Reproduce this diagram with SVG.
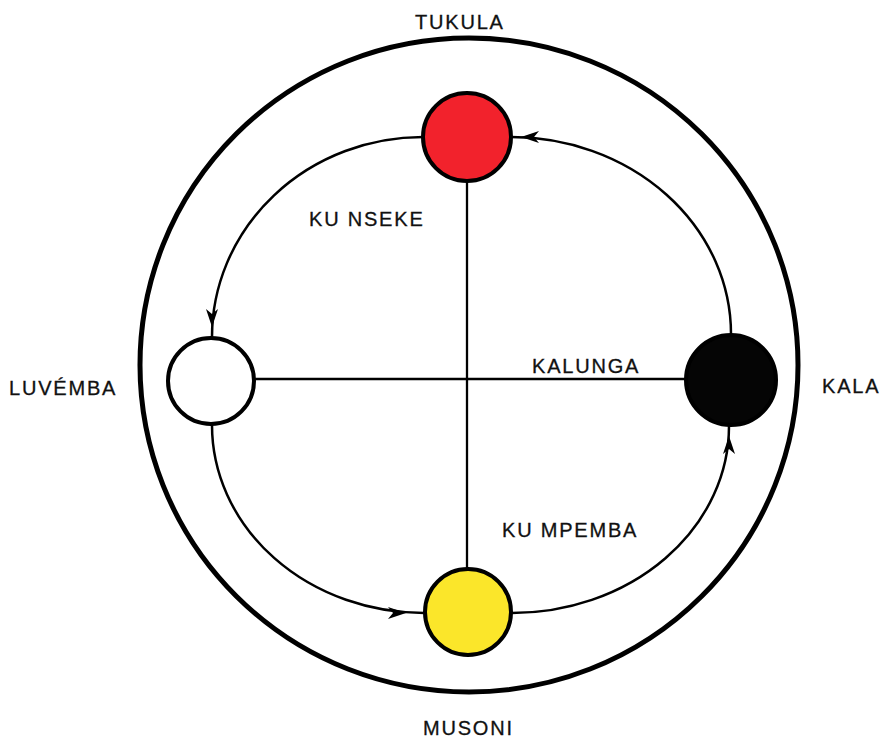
<svg xmlns="http://www.w3.org/2000/svg" width="884" height="738" viewBox="0 0 884 738">
<style>
.lbl{font-family:"Liberation Sans",Arial,sans-serif;font-size:20px;letter-spacing:1.8px;fill:#111;stroke:#111;stroke-width:0.3}
.node{stroke:#000;stroke-width:4}
.arc{fill:none;stroke:#000;stroke-width:2.5}
.line{stroke:#000;stroke-width:2.3}
</style>
<defs>
<marker id="arr" viewBox="-30 -10 30 20" refX="0" refY="0" markerWidth="30" markerHeight="20" markerUnits="userSpaceOnUse" orient="auto" overflow="visible">
<path d="M-10,0 L-28,-6 L-23,0 L-28,6 z" fill="#000"/>
</marker>
<marker id="arr2" viewBox="-30 -10 30 20" refX="0" refY="0" markerWidth="30" markerHeight="20" markerUnits="userSpaceOnUse" orient="auto" overflow="visible">
<path d="M-18,0 L-36,-6 L-31,0 L-36,6 z" fill="#000"/>
</marker>
</defs>
<rect width="884" height="738" fill="#fff"/>
<ellipse id="outer" cx="469" cy="365" rx="329" ry="327" fill="none" stroke="#000" stroke-width="5"/>
<g id="connectors">
<line class="line" x1="467" y1="181" x2="467" y2="568"/>
<line class="line" x1="255" y1="379" x2="686" y2="379"/>
<path class="arc" d="M423,137 A211,200 0 0 0 212,337" marker-end="url(#arr)"/>
<path class="arc" d="M731,334 A220,197 0 0 0 511,137" marker-end="url(#arr)"/>
<path class="arc" d="M212,425 A212,188 0 0 0 424,613" marker-end="url(#arr2)"/>
<path class="arc" d="M512,613 A217,187 0 0 0 729,426" marker-end="url(#arr)"/>
</g>
<g id="tukula"><circle class="node" cx="467" cy="137" r="44" fill="#f2222c"/></g>
<g id="luvemba"><circle class="node" cx="211" cy="381" r="43" fill="#fff"/></g>
<g id="kala"><circle class="node" cx="731" cy="380" r="45" fill="#050505"/></g>
<g id="musoni"><circle class="node" cx="468" cy="612" r="43" fill="#fbe62a"/></g>
<g id="labels">
<text class="lbl" x="415" y="29">TUKULA</text>
<text class="lbl" x="309" y="226">KU NSEKE</text>
<text class="lbl" x="532" y="373">KALUNGA</text>
<text class="lbl" x="822" y="393">KALA</text>
<text class="lbl" x="9" y="395">LUVÉMBA</text>
<text class="lbl" x="502" y="537">KU MPEMBA</text>
<text class="lbl" x="423" y="735">MUSONI</text>
</g>
</svg>
